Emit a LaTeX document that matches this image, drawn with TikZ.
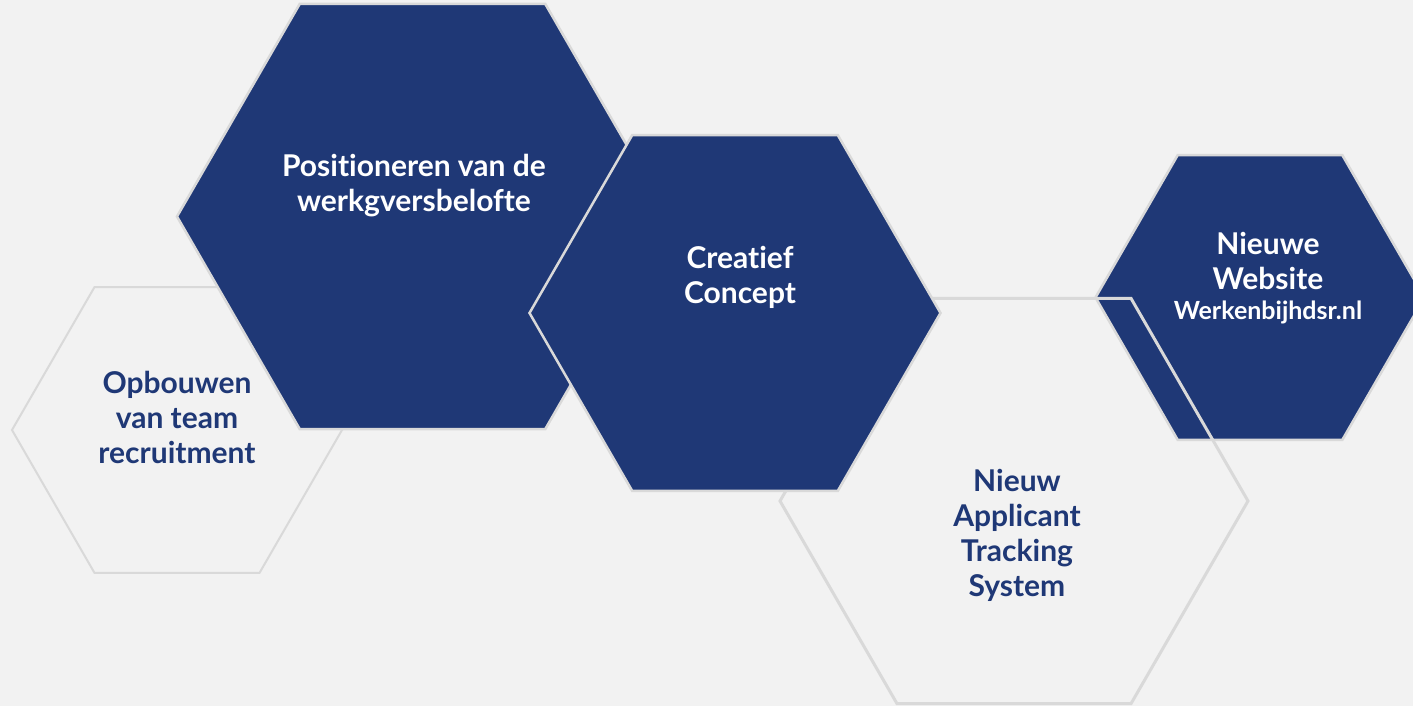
\documentclass[tikz,border=0pt]{standalone}
\usepackage{fontspec}
\setmainfont{Lato}[RawFeature={-liga}]
\definecolor{bg}{HTML}{F2F2F2}
\definecolor{navy}{HTML}{1F3876}
\definecolor{edgegray}{HTML}{D9D9D9}
\begin{document}
\begin{tikzpicture}[x=1pt,y=-1pt,
  hexblue/.style={fill=navy,draw=edgegray,line width=2.5pt,line join=miter},
  hexline/.style={draw=edgegray,line width=3pt,line join=miter},
  hexthin/.style={draw=edgegray,line width=2pt,line join=miter},
  lblw/.style={text=white,font=\bfseries\fontsize{30}{35}\selectfont,align=center},
  lblb/.style={text=navy,font=\bfseries\fontsize{30}{35}\selectfont,align=center}]
\useasboundingbox (0,0) rectangle (1413,706);
\fill[bg] (0,0) rectangle (1413,706);
\clip (0,0) rectangle (1413,706);
% left outline hexagon
\coordinate (cl) at (177,430);
\draw[hexthin] (cl) +(0:165) -- +(60:165) -- +(120:165) -- +(180:165) -- +(240:165) -- +(300:165) -- cycle;
% big blue hexagon
\coordinate (cb) at (422.5,216.5);
\draw[hexblue] (cb) +(0:245.5) -- +(60:245.5) -- +(120:245.5) -- +(180:245.5) -- +(240:245.5) -- +(300:245.5) -- cycle;
% website hexagon
\coordinate (cw) at (1260,297.5);
\draw[hexblue] (cw) +(0:164.5) -- +(60:164.5) -- +(120:164.5) -- +(180:164.5) -- +(240:164.5) -- +(300:164.5) -- cycle;
% ATS outline hexagon
\coordinate (ca) at (1014,501);
\draw[hexline] (ca) +(0:234) -- +(60:234) -- +(120:234) -- +(180:234) -- +(240:234) -- +(300:234) -- cycle;
% creatief concept hexagon
\coordinate (cc) at (735,313);
\draw[hexblue] (cc) +(0:205.5) -- +(60:205.5) -- +(120:205.5) -- +(180:205.5) -- +(240:205.5) -- +(300:205.5) -- cycle;
% labels
\node[lblb] (t1) at (177,417.5) {Opbouwen\\van team\\recruitment};
\node[lblw] (t2) at (414,186) {Positioneren van de\\werkgversbelofte};
\node[lblw] (t3) at (740,277.5) {Creatief\\Concept};
\node[lblw] (t4) at (1268,278) {Nieuwe\\Website\\[-5pt]{\fontsize{25}{30}\selectfont Werkenbijhdsr.nl}};
\node[lblb] (t5) at (1017,535.5) {Nieuw\\Applicant\\Tracking\\System};
\end{tikzpicture}
\end{document}
